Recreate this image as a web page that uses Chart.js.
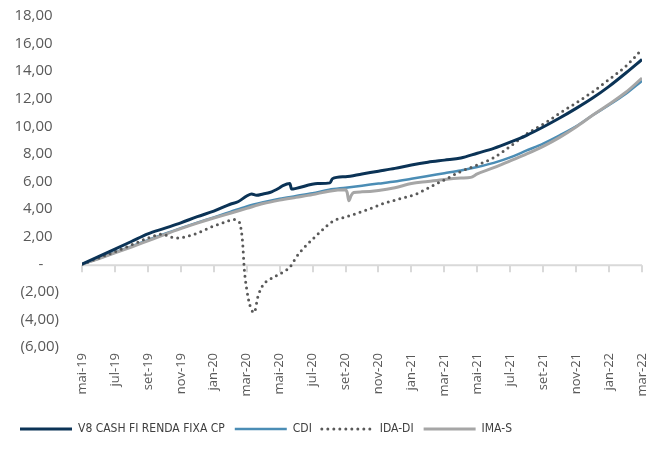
<!DOCTYPE html>
<html>
<head>
<meta charset="utf-8">
<script src="https://cdn.jsdelivr.net/npm/chart.js@4/dist/chart.umd.min.js"></script>
<style>
  html, body { margin: 0; padding: 0; background: #fff; }
  #wrap { width: 671px; height: 463px; }
</style>
</head>
<body>
<div id="wrap"><canvas id="cumulativeChart"></canvas></div>
<script>
// x = months since mai-19, y = cumulative return (%)
const tickLabels = ['mai-19', 'jul-19', 'set-19', 'nov-19', 'jan-20', 'mar-20', 'mai-20', 'jul-20', 'set-20',
    'nov-20', 'jan-21', 'mar-21', 'mai-21', 'jul-21', 'set-21', 'nov-21', 'jan-22', 'mar-22'];

const seriesNames = ['V8 CASH FI RENDA FIXA CP', 'CDI', 'IDA-DI', 'IMA-S'];

const v8Cash = [[0, 0], [1, 0.55], [2, 1.1], [3, 1.65], [4, 2.2], [5, 2.6], [6, 3.0], [7, 3.45], [8, 3.85],
    [9, 4.35], [9.5, 4.55], [10, 4.95], [10.3, 5.1], [10.6, 5.0], [11, 5.1], [11.4, 5.2], [12, 5.55],
    [12.2, 5.7], [12.62, 5.85], [12.72, 5.45], [13, 5.5], [14.3, 5.85], [15.06, 5.9], [15.2, 6.2], [16, 6.35],
    [17, 6.55], [18, 6.75], [19, 6.95], [20, 7.2], [21, 7.4], [22, 7.55], [23, 7.7], [24, 8.05], [25, 8.4],
    [26, 8.85], [27, 9.35], [28, 9.95], [29, 10.6], [30, 11.3], [31, 12.05], [32, 12.9], [33, 13.85],
    [34, 14.85]];

const cdi = [[0, 0], [1, 0.42], [2, 0.85], [3, 1.3], [4, 1.75], [5, 2.2], [6, 2.62], [7, 3.02], [8, 3.4],
    [9, 3.8], [10, 4.2], [11, 4.5], [12, 4.75], [13, 4.95], [14, 5.15], [15, 5.4], [16, 5.55], [17, 5.7],
    [18, 5.85], [19, 6.0], [20, 6.2], [21, 6.4], [22, 6.6], [23, 6.8], [24, 7.05], [25, 7.35], [26, 7.75],
    [27, 8.25], [28, 8.75], [29, 9.35], [30, 10.0], [31, 10.8], [32, 11.55], [33, 12.35], [34, 13.3]];

const idaDi = [[0, 0], [1, 0.45], [2, 0.9], [3, 1.4], [4, 1.9], [4.5, 2.1], [4.9, 2.2], [5.3, 2.0],
    [5.77, 1.9], [6.3, 2.0], [6.98, 2.25], [7.95, 2.75], [8.8, 3.1], [9.17, 3.25], [9.45, 3.15], [9.6, 2.9],
    [9.75, 1.6], [9.85, -0.3], [10.0, -1.8], [10.2, -3.0], [10.45, -3.5], [10.69, -2.3], [10.99, -1.5],
    [11.4, -1.1], [11.84, -0.8], [12.3, -0.5], [12.63, -0.2], [13.0, 0.5], [13.4, 1.1], [14.03, 1.85],
    [14.6, 2.5], [15.2, 3.1], [16.2, 3.5], [17.2, 3.9], [18.3, 4.4], [19.3, 4.75], [20.3, 5.1], [21.3, 5.7],
    [22.3, 6.3], [22.95, 6.7], [24, 7.2], [24.95, 7.7], [26, 8.55], [27, 9.45], [28.2, 10.3], [29, 10.95],
    [30, 11.7], [31, 12.5], [32, 13.4], [33.1, 14.45], [34, 15.6]];

const imaS = [[0, 0], [1, 0.4], [2, 0.82], [3, 1.25], [4, 1.7], [5, 2.15], [6, 2.58], [7, 2.98], [8, 3.35],
    [9, 3.7], [10, 4.05], [11, 4.4], [12, 4.65], [13, 4.85], [14, 5.05], [15, 5.3], [16, 5.4], [16.1, 5.2],
    [16.2, 4.6], [16.35, 5.0], [16.5, 5.2], [17, 5.25], [18, 5.35], [19, 5.55], [20, 5.85], [21, 6.0],
    [22, 6.15], [23, 6.25], [23.6, 6.3], [24, 6.55], [25, 7.0], [26, 7.5], [27, 8.0], [28, 8.55], [29, 9.2],
    [30, 9.95], [31, 10.8], [32, 11.6], [33, 12.45], [34, 13.5]];

const toPoints = arr => arr.map(p => ({ x: p[0], y: p[1] }));

function fmtValue(v) {
    if (v === 0) return '-    ';
    const s = Math.abs(v).toFixed(2).replace('.', ',');
    return v < 0 ? '(' + s + ')' : s + ' \u2009';
}

// zero line with small tick marks hanging under it
const zeroAxis = {
    id: 'zeroAxis',
    beforeDatasetsDraw(chart) {
        const { ctx, chartArea, scales } = chart;
        const y0 = scales.y.getPixelForValue(0) + 1;
        ctx.save();
        ctx.strokeStyle = '#d9d9d9';
        ctx.lineWidth = 2;
        ctx.beginPath();
        ctx.moveTo(chartArea.left, y0);
        ctx.lineTo(chartArea.right, y0);
        scales.x.ticks.forEach(t => {
            const px = Math.round(scales.x.getPixelForValue(t.value));
            ctx.moveTo(px, y0);
            ctx.lineTo(px, y0 + 7);
        });
        ctx.stroke();
        ctx.restore();
    }
};

const ctx = document.getElementById('cumulativeChart').getContext('2d');
const cumulativeChart = new Chart(ctx, {
    type: 'line',
    data: {
        datasets: [{
            label: seriesNames[0],
            data: toPoints(v8Cash),
            borderColor: '#0b3356',
            backgroundColor: '#0b3356',
            borderWidth: 3,
            order: 0
        }, {
            label: seriesNames[1],
            data: toPoints(cdi),
            borderColor: '#4b8db5',
            backgroundColor: '#4b8db5',
            borderWidth: 2.5,
            order: 3
        }, {
            label: seriesNames[2],
            data: toPoints(idaDi),
            borderColor: '#595959',
            backgroundColor: '#595959',
            borderWidth: 3,
            borderDash: [0, 6],
            borderCapStyle: 'round',
            order: 1
        }, {
            label: seriesNames[3],
            data: toPoints(imaS),
            borderColor: '#a6a6a6',
            backgroundColor: '#a6a6a6',
            borderWidth: 3,
            order: 2
        }]
    },
    options: {
        responsive: true,
        maintainAspectRatio: false,
        animation: false,
        elements: {
            point: { radius: 0 },
            line: { tension: 0.3, cubicInterpolationMode: 'monotone' }
        },
        layout: { padding: { left: 10, right: 29, top: 16, bottom: 18 } },
        scales: {
            x: {
                type: 'linear',
                min: 0,
                max: 34,
                grid: { display: false, drawTicks: false },
                border: { display: false },
                afterFit: s => { s.height = 66; },
                ticks: {
                    stepSize: 2,
                    autoSkip: false,
                    maxRotation: 90,
                    minRotation: 90,
                    padding: 6,
                    color: '#595959',
                    font: { family: 'Open Sans', size: 13 },
                    callback: v => tickLabels[v / 2]
                }
            },
            y: {
                min: -6,
                max: 18,
                grid: { display: false, drawTicks: false },
                border: { display: false },
                afterFit: s => {
                    s.width = 72;
                    s.paddingTop = 0;
                    s.paddingBottom = 0;
                },
                ticks: {
                    stepSize: 2,
                    padding: 23,
                    color: '#595959',
                    font: { family: 'Open Sans', size: 15 },
                    callback: v => fmtValue(v)
                }
            }
        },
        plugins: {
            tooltip: { enabled: false },
            legend: {
                position: 'bottom',
                align: 'start',
                labels: {
                    usePointStyle: true,
                    pointStyle: 'line',
                    pointStyleWidth: 52,
                    padding: 10,
                    color: '#404040',
                    font: { family: "'DejaVu Sans Condensed', Lato", size: 12 },
                    sort: (a, b) => a.datasetIndex - b.datasetIndex,
                    generateLabels(chart) {
                        const items = Chart.defaults.plugins.legend.labels.generateLabels(chart);
                        items.forEach(item => {
                            const ds = chart.data.datasets[item.datasetIndex];
                            item.lineDash = ds.borderDash || [];
                            item.lineCap = ds.borderCapStyle || 'butt';
                            item.lineWidth = ds.borderWidth;
                        });
                        return items;
                    }
                }
            }
        }
    },
    plugins: [zeroAxis]
});
</script>
</body>
</html>
